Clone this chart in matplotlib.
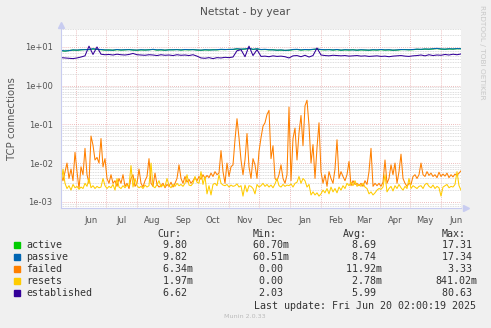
import matplotlib
matplotlib.use('Agg')
import matplotlib.pyplot as plt
import matplotlib.dates as mdates
from matplotlib.ticker import LogLocator, FuncFormatter, NullFormatter
from matplotlib.patches import Rectangle
import numpy as np
import pandas as pd

# failed / resets every 2 days (milli connections)
failed = np.array([5, 3.5, 6, 10, 4, 7, 3.5, 19, 6, 2.2,
                   8, 5, 24, 5, 3, 50, 29, 12, 14, 10,
                   43, 8, 13, 4, 3, 5, 3, 3.5, 2.5, 4,
                   3, 5, 2.5, 3, 2.2, 4, 5, 2.5, 3, 7,
                   3, 2.4, 3.5, 4.5, 13, 3, 2.5, 5.5, 2.8, 2.4,
                   2.6, 3, 2.3, 2.8, 2.5, 3.2, 2.4, 3, 4, 9,
                   4, 3, 4.5, 3.2, 3.8, 3, 3.5, 4.2, 3.5, 4.5,
                   3.8, 5, 4, 4.8, 4.2, 5.5, 4.5, 6, 5, 5.5,
                   21, 6, 3, 10, 4.5, 8, 9, 40, 140, 45,
                   12, 5, 12, 58, 8, 4, 13, 9, 4, 20,
                   45, 90, 110, 180, 230, 13, 28, 4, 3.5, 5,
                   9, 4, 3, 5, 280, 3.5, 43, 80, 12, 60,
                   170, 28, 300, 420, 95, 10, 30, 4, 25, 110,
                   6, 3, 5, 2.5, 6, 4, 3, 7, 40, 4,
                   6, 4.5, 3.5, 5, 11, 2.6, 3.5, 2.8, 3, 2.6,
                   3, 2.5, 3.5, 2.8, 6, 24, 2.5, 3, 2.6, 3,
                   2.5, 3.2, 12, 3, 4, 9, 5, 10, 3, 6,
                   17, 4, 3, 2.5, 3, 2.8, 4.5, 5, 4, 5,
                   10, 5, 4.5, 6, 4.8, 5.5, 4.5, 5, 4.2, 5.8,
                   4.5, 5.2, 4.6, 5.5, 4.2, 5, 4.4, 5.2, 4.8, 5.5,
                   6.3]) * 1e-3
resets = np.array([2.5, 7, 3, 2.2, 2.6, 2.0, 2.8, 2.3, 2.5, 2.1,
                   2.4, 2.2, 3, 2.5, 4, 2.3, 2.6, 2.2, 2.5, 2.3,
                   2.4, 4, 2.6, 2.2, 2.5, 2.3, 2.8, 2.0, 4, 2.4,
                   2.2, 2.6, 2.3, 2.7, 2.5, 8.6, 2.4, 4, 2.6, 2.3,
                   2.5, 2.2, 2.7, 2.4, 2.6, 10, 2.5, 2.3, 2.8, 3.5,
                   2.4, 2.7, 2.5, 4, 2.6, 2.3, 2.8, 2.5, 3, 2.6,
                   2.8, 2.5, 3, 5, 2.7, 2.6, 3, 4.5, 3.2, 3,
                   6, 2.8, 4.5, 1.6, 2.6, 1.5, 2.8, 3, 2.6, 5,
                   3, 2.7, 2.6, 2.8, 2.4, 2.7, 2.5, 2.6, 2.9, 2.4,
                   2.6, 1.4, 2.7, 1.8, 2.6, 2.5, 2.2, 1.6, 2.8, 2.4,
                   2.6, 3, 2.5, 2.8, 2.4, 2.7, 2.3, 2.9, 4, 2.6,
                   2.4, 2.8, 2.5, 2.7, 2.6, 2.9, 2.4, 3, 3.2, 4.5,
                   3, 4, 3.5, 2.4, 2.8, 1.5, 1.8, 1.5, 1.7, 1.4,
                   1.6, 2, 1.7, 2.2, 1.6, 2.4, 1.8, 2.2, 1.7, 2.4,
                   2, 2.6, 2.2, 3, 2.6, 3.2, 2.6, 3.5, 2.5, 2.8,
                   2.5, 3, 2.4, 2.2, 1.6, 1.8, 1.5, 1.7, 2, 2.2,
                   2.1, 2.4, 5, 1.8, 2.2, 2.5, 1.9, 2.6, 2.2, 2.8,
                   2.3, 2, 2.5, 2.2, 4, 2.2, 2.6, 2.4, 2.2, 2.5,
                   2.6, 2.2, 2.8, 3, 2.5, 2.3, 2.7, 2.2, 2.5, 2.3,
                   1.4, 2.4, 2.6, 2.8, 2.3, 2.5, 2.4, 2.8, 6, 2.6,
                   2]) * 1e-3

# every 4 days
active = [8.0, 7.8, 8.1, 8.3, 8.2, 8.4, 8.6, 8.5, 8.9, 8.6,
          8.5, 8.3, 8.4, 8.2, 8.5, 8.3, 8.4, 8.6, 8.3, 8.2,
          8.4, 8.3, 8.5, 8.6, 8.3, 8.4, 8.2, 8.5, 8.4, 8.6,
          8.3, 8.5, 8.4, 8.6, 8.3, 8.2, 8.4, 8.3, 8.5, 8.4,
          8.6, 8.5, 8.7, 8.6, 8.9, 8.7, 8.8, 9.2, 8.6, 8.9,
          8.5, 8.6, 8.4, 8.5, 8.2, 8.3, 8.1, 8.2, 8.5, 8.6,
          8.3, 8.5, 8.4, 8.6, 8.8, 8.5, 8.4, 8.6, 8.3, 8.5,
          8.2, 8.4, 8.3, 8.5, 8.2, 8.4, 8.3, 8.2, 8.4, 8.3,
          8.5, 8.3, 8.4, 8.2, 8.3, 8.5, 8.6, 8.4, 8.5, 8.7,
          8.6, 8.8, 8.7, 8.9, 9.1, 8.8, 8.7, 8.9, 8.8, 9.0,
          9.0]
passive = [8.1, 7.9, 8.0, 8.4, 8.3, 8.5, 8.5, 8.6, 9.0, 8.7,
           8.6, 8.4, 8.3, 8.3, 8.6, 8.4, 8.5, 8.5, 8.4, 8.3,
           8.5, 8.4, 8.4, 8.7, 8.4, 8.5, 8.3, 8.4, 8.5, 8.5,
           8.4, 8.6, 8.5, 8.5, 8.4, 8.3, 8.5, 8.4, 8.4, 8.5,
           8.7, 8.6, 8.6, 8.7, 9.0, 8.8, 8.9, 9.3, 8.7, 9.0,
           8.6, 8.7, 8.5, 8.4, 8.3, 8.4, 8.2, 8.3, 8.6, 8.7,
           8.4, 8.6, 8.5, 8.7, 8.9, 8.6, 8.5, 8.5, 8.4, 8.6,
           8.3, 8.5, 8.4, 8.4, 8.3, 8.5, 8.4, 8.3, 8.5, 8.4,
           8.6, 8.4, 8.5, 8.3, 8.4, 8.6, 8.5, 8.5, 8.6, 8.8,
           8.7, 8.9, 8.8, 9.0, 9.2, 8.9, 8.8, 9.0, 8.9, 9.1,
           9.0]
established = [5.3, 5.2, 5.1, 5.0, 5.2, 5.5, 5.9, 10.5, 6.4, 10.0,
               6.5, 6.3, 6.4, 6.2, 6.5, 6.3, 6.2, 6.4, 6.8, 6.3,
               6.2, 6.1, 6.3, 6.2, 6.0, 6.3, 6.1, 6.2, 6.0, 6.3,
               6.1, 6.2, 6.0, 6.3, 5.8, 5.2, 5.1, 5.3, 5.0, 5.3,
               5.2, 5.4, 5.3, 5.5, 8.0, 8.5, 5.6, 10.5, 6.0, 8.5,
               5.7, 5.8, 5.6, 5.9, 5.7, 5.8, 5.6, 5.2, 5.9, 6.0,
               5.6, 6.1, 5.5, 6.0, 9.4, 6.2, 6.0, 5.9, 6.1, 6.0,
               5.9, 6.0, 5.8, 5.9, 6.0, 5.8, 5.9, 5.7, 5.8, 5.9,
               5.7, 5.8, 5.6, 5.8, 5.9, 6.0, 5.8, 5.7, 5.9, 6.0,
               6.2, 5.9, 6.3, 6.0, 6.2, 6.1, 6.4, 6.2, 6.5, 6.3,
               6.6]

names = ['active', 'passive', 'failed', 'resets', 'established']
colors = ['#00CC00', '#0066B3', '#FF8000', '#FFCC00', '#330099']
cur = ['9.80', '9.82', '6.34m', '1.97m', '6.62']
mins = ['60.70m', '60.51m', '0.00', '0.00', '2.03']
avgs = ['8.69', '8.74', '11.92m', '2.78m', '5.99']
maxs = ['17.31', '17.34', '3.33', '841.02m', '80.63']

d_small = pd.date_range('2024-05-17', periods=len(failed), freq='2D')
d_big = pd.date_range('2024-05-17', periods=len(active), freq='4D')

W, H = 491, 328
fig = plt.figure(figsize=(W / 100, H / 100), dpi=100, facecolor='#f0f0f0')
ax = fig.add_axes([61 / W, 1 - 208 / H, 400 / W, (208 - 28.5) / H])
ax.set_facecolor('white')

lw = 0.75
ax.plot(d_big, active, color=colors[0], lw=lw)
ax.plot(d_big, passive, color=colors[1], lw=lw)
ax.plot(d_small, failed, color=colors[2], lw=lw)
ax.plot(d_small, resets, color=colors[3], lw=lw)
ax.plot(d_big, established, color=colors[4], lw=lw)

ax.set_yscale('log')
ax.set_ylim(6.9e-4, 30)
ax.set_xlim(pd.Timestamp('2024-05-17'), pd.Timestamp('2025-06-21'))

ax.yaxis.set_major_locator(LogLocator(base=10, numticks=20))
ax.yaxis.set_minor_locator(LogLocator(base=10, subs=np.arange(2, 10), numticks=20))
ax.yaxis.set_major_formatter(FuncFormatter(lambda v, p: '%.0e' % v))
ax.yaxis.set_minor_formatter(NullFormatter())

ax.xaxis.set_major_locator(mdates.MonthLocator())
ax.xaxis.set_major_formatter(NullFormatter())
ax.xaxis.set_minor_locator(mdates.MonthLocator(bymonthday=16))
ax.xaxis.set_minor_formatter(mdates.DateFormatter('%b'))

ax.tick_params(which='both', length=0, colors='#555555', labelsize=6)
ax.tick_params(axis='x', which='minor', pad=6)
ax.tick_params(axis='y', which='major', pad=6)

ax.grid(which='minor', axis='y', color='#d4d4d4', ls=(0, (1, 1)), lw=0.6)
ax.grid(which='major', axis='both', color='#e8a8a8', ls=(0, (1, 1.5)), lw=0.6)
ax.set_axisbelow(True)

for s in ['top', 'right']:
    ax.spines[s].set_visible(False)
for s in ['left', 'bottom']:
    ax.spines[s].set_color('#c8ccf0')
    ax.spines[s].set_linewidth(0.8)
ax.plot([0], [1.02], marker='^', color='#c8ccf0', ms=4, transform=ax.transAxes, clip_on=False)
ax.plot([1.012], [0], marker='>', color='#c8ccf0', ms=4, transform=ax.transAxes, clip_on=False)


def px(x, y):
    return x / W, 1 - y / H


fig.text(*px(245.5, 12), 'Netstat - by year', ha='center', va='center', fontsize=7.7, color='#505050')
fig.text(*px(12, 119), 'TCP connections', rotation=90, ha='center', va='center', fontsize=7.3, color='#555555')
fig.text(*px(482, 52), 'RRDTOOL / TOBI OETIKER', rotation=270, ha='center', va='center',
         fontsize=5.3, color='#c8c8c8')
fig.text(*px(244.5, 316), 'Munin 2.0.33', ha='center', va='center', fontsize=4.6, color='#bbbbbb')

mono = dict(family='DejaVu Sans Mono', fontsize=7.2, color='#333333', va='center')


def fmt(s):
    if s.endswith('m'):
        return s[:-1].rjust(6) + 'm'
    return s.rjust(6) + ' '


for hx, lab in zip([157.7, 252.7, 343.3, 441.7], ['Cur:', 'Min:', 'Avg:', 'Max:']):
    fig.text(*px(hx, 234), lab, **mono)

for i, n in enumerate(names):
    y = 245 + 12 * i
    fig.patches.append(Rectangle(px(14, y + 3), 6 / W, 6 / H, color=colors[i],
                                 transform=fig.transFigure, figure=fig))
    fig.text(*px(26.5, y), n, **mono)
    for cx, vals in zip([151.3, 246.7, 340, 435.7], [cur, mins, avgs, maxs]):
        fig.text(*px(cx, y), fmt(vals[i]), **mono)

fig.text(*px(254.5, 306), 'Last update: Fri Jun 20 02:00:19 2025', **mono)

fig.savefig('out.png', dpi=100, facecolor=fig.get_facecolor())
